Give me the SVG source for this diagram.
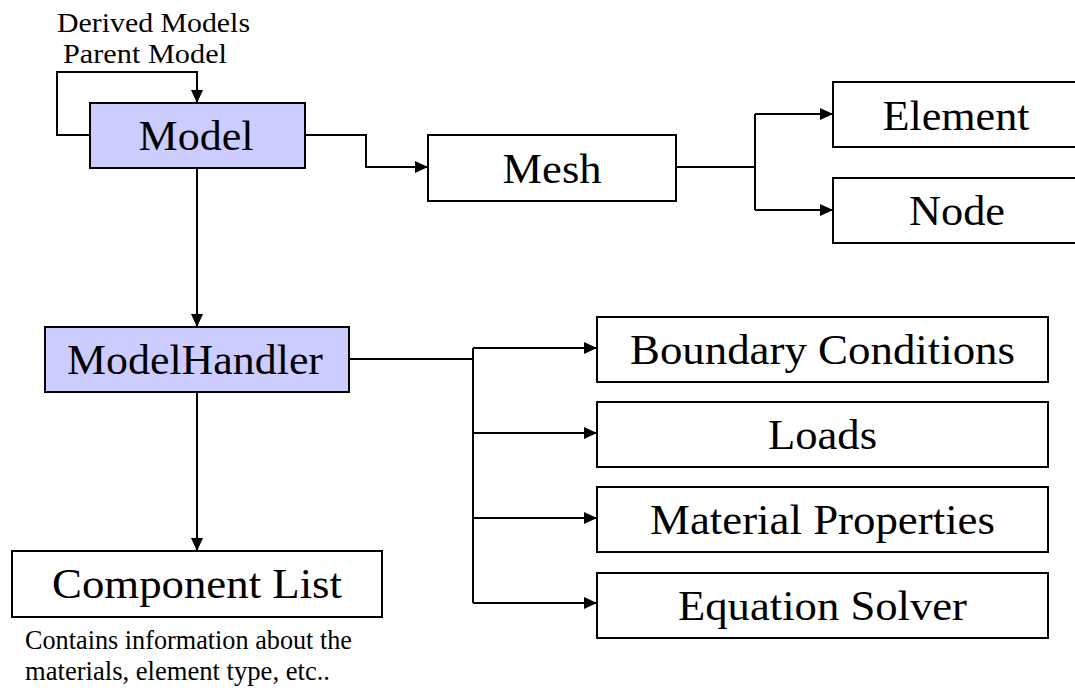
<svg xmlns="http://www.w3.org/2000/svg" width="1075" height="692" viewBox="0 0 1075 692">
  <style>
    .box { fill: #ffffff; stroke: #000000; stroke-width: 2; }
    .hl { fill: #ccccff; stroke: #000000; stroke-width: 2; }
    .lbl { font-family: "Liberation Serif", "Times New Roman", serif; font-size: 43px; fill: #000000; text-anchor: middle; }
    .note { font-family: "Liberation Serif", "Times New Roman", serif; font-size: 27px; fill: #000000; }
    .wire { fill: none; stroke: #000000; stroke-width: 2; }
  </style>
  <defs>
    <marker id="arrow" markerUnits="userSpaceOnUse" markerWidth="14" markerHeight="12" refX="13" refY="6" orient="auto">
      <path d="M0,0 L13,6 L0,12 Z" fill="#000000"/>
    </marker>
  </defs>

  <!-- connectors -->
  <g id="connectors">
    <path class="wire" d="M90,135 H57 V72 H197 V103" marker-end="url(#arrow)"/>
    <path class="wire" d="M305,135 H366 V167 H428" marker-end="url(#arrow)"/>
    <path class="wire" d="M197,168 V327" marker-end="url(#arrow)"/>
    <path class="wire" d="M676,167 H755"/>
    <path class="wire" d="M755,114 V210"/>
    <path class="wire" d="M755,114 H833" marker-end="url(#arrow)"/>
    <path class="wire" d="M755,210 H833" marker-end="url(#arrow)"/>
    <path class="wire" d="M349,359 H473"/>
    <path class="wire" d="M473,348 V603"/>
    <path class="wire" d="M473,348 H597" marker-end="url(#arrow)"/>
    <path class="wire" d="M473,433 H597" marker-end="url(#arrow)"/>
    <path class="wire" d="M473,518 H597" marker-end="url(#arrow)"/>
    <path class="wire" d="M473,603 H597" marker-end="url(#arrow)"/>
    <path class="wire" d="M197,392 V551" marker-end="url(#arrow)"/>
  </g>

  <!-- self-reference labels -->
  <g id="loop-labels">
    <text class="note" x="57" y="32" textLength="193" lengthAdjust="spacingAndGlyphs">Derived Models</text>
    <text class="note" x="63" y="63" textLength="164" lengthAdjust="spacingAndGlyphs">Parent Model</text>
  </g>

  <g id="model">
    <rect class="hl" x="90" y="103" width="215" height="65"/>
    <text class="lbl" x="196" y="150" textLength="115" lengthAdjust="spacingAndGlyphs">Model</text>
  </g>

  <g id="mesh">
    <rect class="box" x="428" y="135" width="248" height="66"/>
    <text class="lbl" x="552" y="183" textLength="99" lengthAdjust="spacingAndGlyphs">Mesh</text>
  </g>

  <g id="element">
    <rect class="box" x="833" y="82" width="250" height="65"/>
    <text class="lbl" x="956" y="130" textLength="147" lengthAdjust="spacingAndGlyphs">Element</text>
  </g>

  <g id="node">
    <rect class="box" x="833" y="178" width="250" height="65"/>
    <text class="lbl" x="957" y="225" textLength="96" lengthAdjust="spacingAndGlyphs">Node</text>
  </g>

  <g id="model-handler">
    <rect class="hl" x="45" y="327" width="304" height="65"/>
    <text class="lbl" x="195" y="374" textLength="256" lengthAdjust="spacingAndGlyphs">ModelHandler</text>
  </g>

  <g id="boundary-conditions">
    <rect class="box" x="597" y="317" width="451" height="65"/>
    <text class="lbl" x="822.5" y="364" textLength="385" lengthAdjust="spacingAndGlyphs">Boundary Conditions</text>
  </g>

  <g id="loads">
    <rect class="box" x="597" y="402" width="451" height="65"/>
    <text class="lbl" x="822.5" y="449" textLength="109" lengthAdjust="spacingAndGlyphs">Loads</text>
  </g>

  <g id="material-properties">
    <rect class="box" x="597" y="487" width="451" height="65"/>
    <text class="lbl" x="822.5" y="534" textLength="345" lengthAdjust="spacingAndGlyphs">Material Properties</text>
  </g>

  <g id="equation-solver">
    <rect class="box" x="597" y="573" width="451" height="65"/>
    <text class="lbl" x="822.5" y="620" textLength="289" lengthAdjust="spacingAndGlyphs">Equation Solver</text>
  </g>

  <g id="component-list">
    <rect class="box" x="12" y="551" width="370" height="66"/>
    <text class="lbl" x="197" y="598" textLength="290" lengthAdjust="spacingAndGlyphs">Component List</text>
  </g>

  <g id="component-note">
    <text class="note" x="25" y="649" textLength="327" lengthAdjust="spacingAndGlyphs">Contains information about the</text>
    <text class="note" x="25" y="680" textLength="305" lengthAdjust="spacingAndGlyphs">materials, element type, etc..</text>
  </g>
</svg>
